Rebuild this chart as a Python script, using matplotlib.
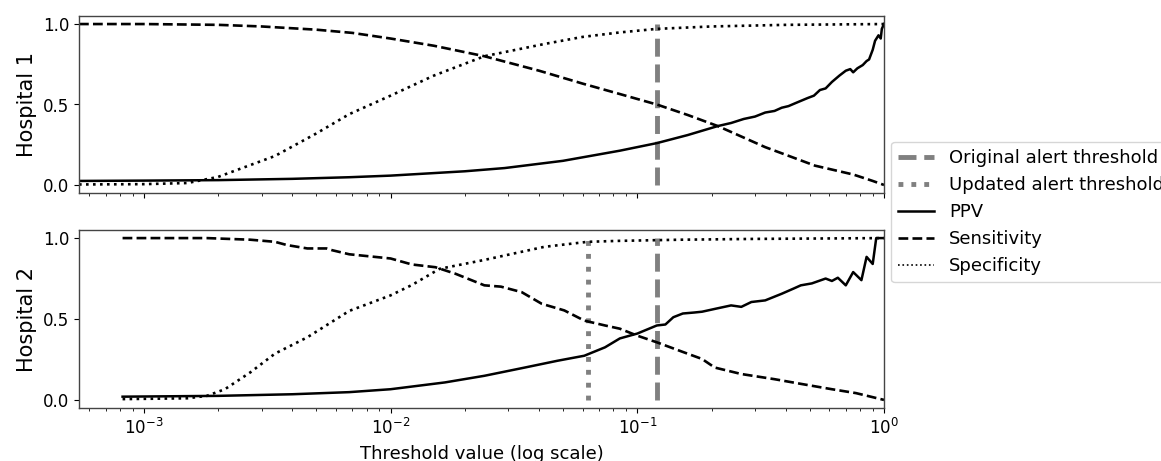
import matplotlib
matplotlib.use("Agg")
import matplotlib.pyplot as plt
from matplotlib.lines import Line2D

# ---------------- data ----------------
# Hospital 1
h1_sens_thr = [0.000546, 0.001, 0.002, 0.003, 0.005, 0.007, 0.01, 0.015, 0.024, 0.04,
               0.06, 0.085, 0.12, 0.16, 0.212, 0.33, 0.525, 0.75, 0.9, 1.0]
h1_sens = [1.0, 1.0, 0.995, 0.985, 0.965, 0.945, 0.91, 0.865, 0.80, 0.71,
           0.63, 0.565, 0.50, 0.435, 0.366, 0.235, 0.12, 0.065, 0.025, 0.0]

h1_spec_thr = [0.000546, 0.001, 0.0015, 0.002, 0.0034, 0.005, 0.0068, 0.01, 0.015, 0.024,
               0.042, 0.06, 0.085, 0.12, 0.2, 0.4, 1.0]
h1_spec = [0.003, 0.005, 0.012, 0.05, 0.18, 0.32, 0.44, 0.555, 0.68, 0.80,
           0.876, 0.92, 0.948, 0.97, 0.985, 0.995, 1.0]

h1_ppv_thr = [0.000546, 0.001, 0.002, 0.004, 0.0068, 0.01, 0.02, 0.029, 0.05, 0.085,
              0.12, 0.16, 0.212, 0.24, 0.27, 0.3, 0.33, 0.36, 0.385, 0.41, 0.44, 0.49,
              0.52, 0.55, 0.58, 0.615, 0.66, 0.7, 0.73, 0.75, 0.78, 0.82, 0.85, 0.87,
              0.9, 0.92, 0.95, 0.97, 0.98, 1.0]
h1_ppv = [0.025, 0.027, 0.03, 0.038, 0.048, 0.058, 0.085, 0.105, 0.15, 0.213,
          0.26, 0.31, 0.366, 0.385, 0.41, 0.425, 0.45, 0.46, 0.48, 0.49, 0.51, 0.54,
          0.555, 0.59, 0.60, 0.64, 0.68, 0.71, 0.72, 0.70, 0.725, 0.745, 0.77, 0.78,
          0.84, 0.896, 0.93, 0.91, 0.97, 1.0]

# Hospital 2
h2_sens_thr = [0.00082, 0.0018, 0.0027, 0.0034, 0.0038, 0.0046, 0.0055, 0.0058, 0.0068, 0.01,
               0.0122, 0.0152, 0.0183, 0.024, 0.028, 0.034, 0.041, 0.0506, 0.061, 0.074,
               0.085, 0.1, 0.12, 0.152, 0.183, 0.206, 0.264, 0.36, 0.465, 0.615, 0.77, 1.0]
h2_sens = [1.0, 1.0, 0.99, 0.977, 0.957, 0.936, 0.936, 0.925, 0.90, 0.874,
           0.837, 0.82, 0.78, 0.708, 0.70, 0.666, 0.594, 0.553, 0.49, 0.46,
           0.44, 0.397, 0.356, 0.298, 0.253, 0.20, 0.16, 0.128, 0.098, 0.066, 0.042, 0.0]

h2_spec_thr = [0.00082, 0.0015, 0.0018, 0.00213, 0.0027, 0.0034, 0.0046, 0.0068, 0.01, 0.0122,
               0.0158, 0.024, 0.042, 0.063, 0.085, 0.15, 0.3, 1.0]
h2_spec = [0.005, 0.01, 0.025, 0.066, 0.17, 0.286, 0.387, 0.55, 0.646, 0.71,
           0.81, 0.865, 0.946, 0.977, 0.983, 0.99, 0.995, 1.0]

h2_ppv_thr = [0.00082, 0.002, 0.004, 0.0068, 0.01, 0.0166, 0.024, 0.035, 0.0475, 0.061,
              0.074, 0.085, 0.1, 0.12, 0.13, 0.14, 0.153, 0.17, 0.183, 0.21, 0.24,
              0.264, 0.29, 0.33, 0.385, 0.43, 0.46, 0.51, 0.58, 0.615, 0.65,
              0.70, 0.75, 0.81, 0.85, 0.9, 0.93, 1.0]
h2_ppv = [0.02, 0.025, 0.035, 0.048, 0.066, 0.108, 0.149, 0.20, 0.242, 0.273,
          0.325, 0.38, 0.41, 0.46, 0.466, 0.511, 0.534, 0.54, 0.545, 0.565, 0.584,
          0.575, 0.605, 0.615, 0.656, 0.688, 0.708, 0.72, 0.75, 0.735, 0.755,
          0.708, 0.79, 0.74, 0.884, 0.84, 1.0, 1.0]

original_threshold = 0.12
updated_threshold = 0.063

panel_labels = ["Hospital 1", "Hospital 2"]
legend_labels = ["Original alert threshold", "Updated alert threshold", "PPV", "Sensitivity", "Specificity"]
x_label = "Threshold value (log scale)"

# ---------------- plot ----------------
fig = plt.figure(figsize=(11.61, 4.61), dpi=100)
ax1 = fig.add_axes([79 / 1161, 1 - 193 / 461, 805 / 1161, 177 / 461])
ax2 = fig.add_axes([79 / 1161, 1 - 408 / 461, 805 / 1161, 178 / 461], sharex=ax1)

thr_style = dict(color="gray", linewidth=3.5)

panels = [
    (ax1, h1_ppv_thr, h1_ppv, h1_sens_thr, h1_sens, h1_spec_thr, h1_spec, [("--", original_threshold)]),
    (ax2, h2_ppv_thr, h2_ppv, h2_sens_thr, h2_sens, h2_spec_thr, h2_spec,
     [("--", original_threshold), (":", updated_threshold)]),
]

for i, (ax, pt, pv, st, sv, ct, cv, vls) in enumerate(panels):
    for ls, t in vls:
        ax.vlines(t, 0, 1, linestyles=ls, **thr_style)
    ax.plot(pt, pv, color="black", linestyle="-", linewidth=1.8)
    ax.plot(st, sv, color="black", linestyle="--", linewidth=1.9)
    ax.plot(ct, cv, color="black", linestyle=":", linewidth=1.9)
    ax.set_xscale("log")
    ax.set_ylim(-0.05, 1.05)
    ax.set_yticks([0.0, 0.5, 1.0])
    ax.set_ylabel(panel_labels[i], fontsize=15)
    ax.tick_params(labelsize=12)
    for sp in ax.spines.values():
        sp.set_color("#444444")
        sp.set_linewidth(1.0)

ax1.set_xlim(0.000546, 1.0)
ax1.tick_params(axis="x", which="both", labelbottom=False)
ax2.set_xlabel(x_label, fontsize=13, labelpad=5)

handles = [
    Line2D([], [], color="gray", linestyle="--", linewidth=3.5),
    Line2D([], [], color="gray", linestyle=":", linewidth=3.5),
    Line2D([], [], color="black", linestyle="-", linewidth=1.8),
    Line2D([], [], color="black", linestyle="--", linewidth=1.9),
    Line2D([], [], color="black", linestyle=":", linewidth=1.2),
]
fig.legend(handles, legend_labels, loc="center left",
           bbox_to_anchor=(882 / 1161, 1 - 212 / 461), fontsize=13)

fig.savefig("out.png", dpi=100)
